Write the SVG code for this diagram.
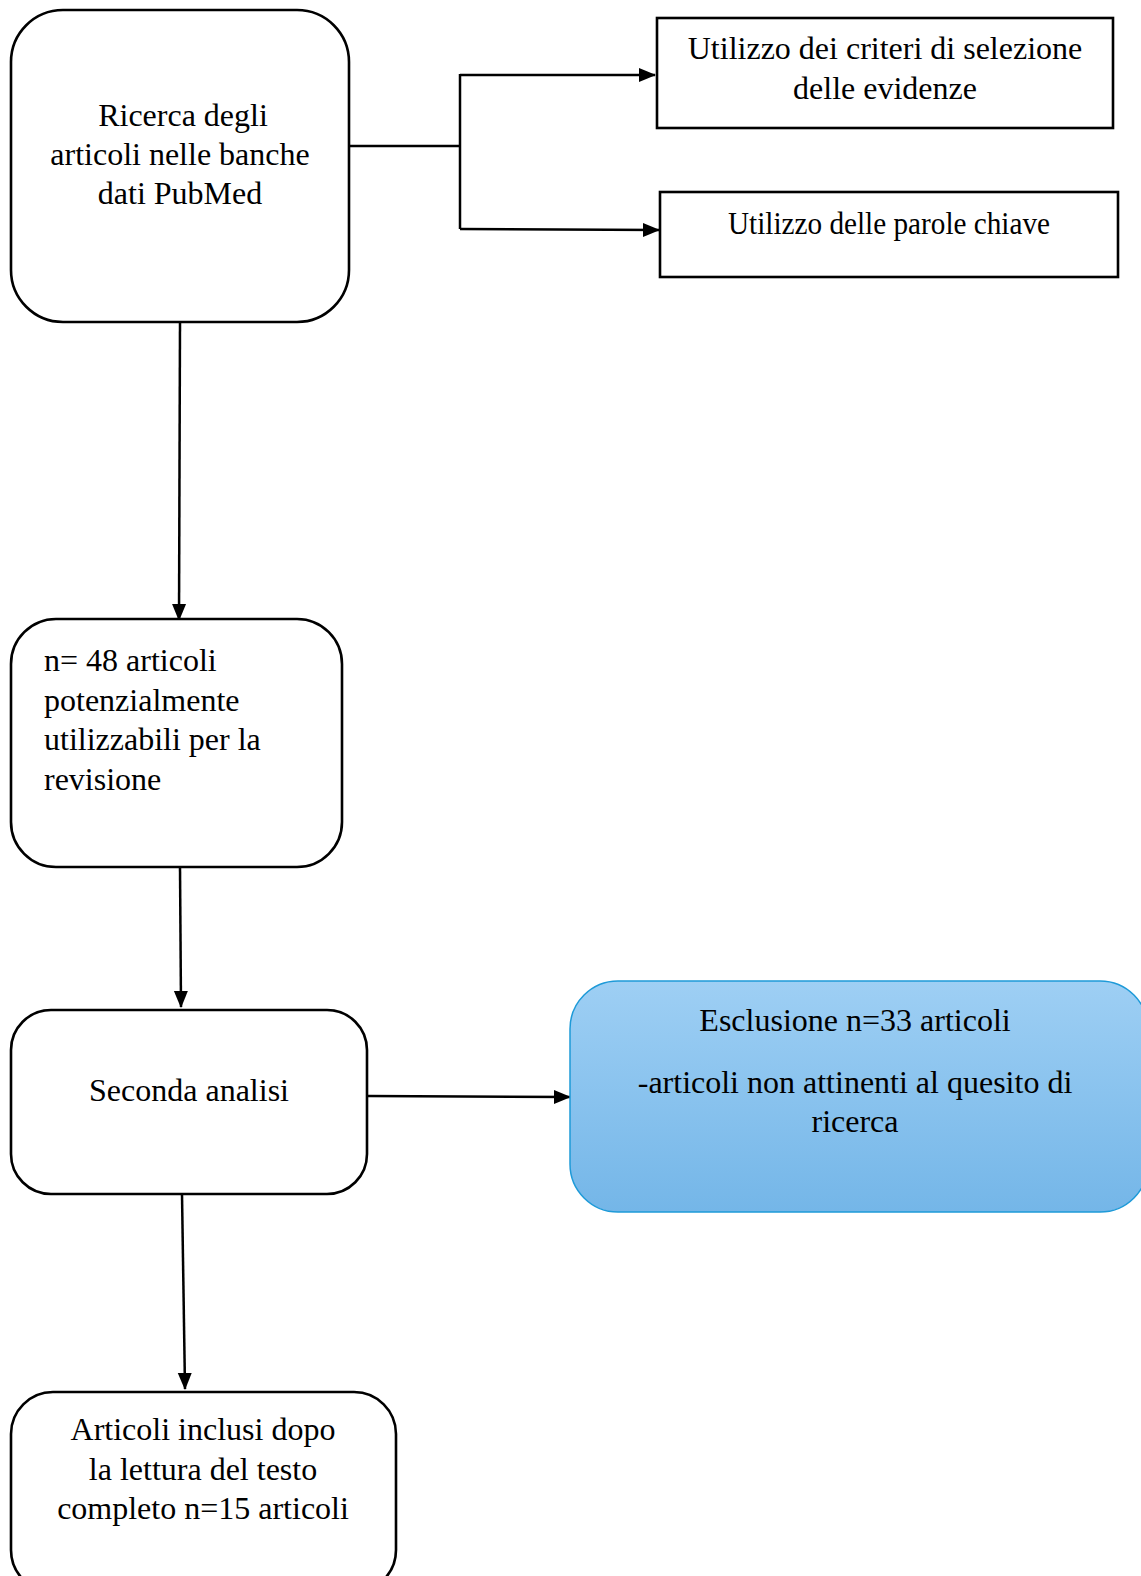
<svg xmlns="http://www.w3.org/2000/svg" width="1141" height="1576" viewBox="0 0 1141 1576">
<style>
.box{fill:#fff;stroke:#000;stroke-width:2.6}
.t{font-family:"Liberation Serif","Times New Roman",serif;font-size:32px;fill:#000}
.c{text-anchor:middle}
.ln{fill:none;stroke:#000;stroke-width:2.5}
</style>
<defs>
<marker id="ah" markerUnits="userSpaceOnUse" markerWidth="18" markerHeight="16" refX="16" refY="8" orient="auto">
<path d="M0,1 L17,8 L0,15 Z" fill="#000"/>
</marker>
<linearGradient id="blue" x1="0" y1="0" x2="0" y2="1">
<stop offset="0" stop-color="#9ECFF4"/>
<stop offset="1" stop-color="#74B6E8"/>
</linearGradient>
</defs>
<g id="connectors">
<path class="ln" d="M349,146 H460"/>
<path class="ln" d="M460,74 V229"/>
<path class="ln" d="M460,75 H655" marker-end="url(#ah)"/>
<path class="ln" d="M460,229 L659,230" marker-end="url(#ah)"/>
<path class="ln" d="M180,322 L179,620" marker-end="url(#ah)"/>
<path class="ln" d="M180,867 L181,1007" marker-end="url(#ah)"/>
<path class="ln" d="M368,1096 L570,1097" marker-end="url(#ah)"/>
<path class="ln" d="M182,1194 L185,1389" marker-end="url(#ah)"/>
</g>
<g id="n1">
<rect class="box" x="11" y="10" width="338" height="312" rx="52"/>
<text class="t c" x="183" y="126">Ricerca degli</text>
<text class="t c" x="180" y="165">articoli nelle banche</text>
<text class="t c" x="180" y="204">dati PubMed</text>
</g>
<g id="n2">
<rect class="box" x="657" y="18" width="456" height="110" rx="0"/>
<text class="t c" x="885" y="59">Utilizzo dei criteri di selezione</text>
<text class="t c" x="885" y="99">delle evidenze</text>
</g>
<g id="n3">
<rect class="box" x="660" y="192" width="458" height="85" rx="0"/>
<text class="t c" x="889" y="234" textLength="322" lengthAdjust="spacingAndGlyphs">Utilizzo delle parole chiave</text>
</g>
<g id="n4">
<rect class="box" x="11" y="619" width="331" height="248" rx="45"/>
<text class="t" x="44" y="671">n= 48 articoli</text>
<text class="t" x="44" y="711">potenzialmente</text>
<text class="t" x="44" y="750">utilizzabili per la</text>
<text class="t" x="44" y="790">revisione</text>
</g>
<g id="n5">
<rect class="box" x="11" y="1010" width="356" height="184" rx="40"/>
<text class="t c" x="189" y="1101">Seconda analisi</text>
</g>
<g id="n6">
<rect x="570" y="981" width="578" height="231" rx="48" fill="url(#blue)" stroke="#1E9AD8" stroke-width="1.5"/>
<text class="t c" x="855" y="1031">Esclusione n=33 articoli</text>
<text class="t c" x="855" y="1093">-articoli non attinenti al quesito di</text>
<text class="t c" x="855" y="1132">ricerca</text>
</g>
<g id="n7">
<rect class="box" x="11" y="1392" width="385" height="200" rx="42"/>
<text class="t c" x="203" y="1440">Articoli inclusi dopo</text>
<text class="t c" x="203" y="1480">la lettura del testo</text>
<text class="t c" x="203" y="1519">completo n=15 articoli</text>
</g>
</svg>
